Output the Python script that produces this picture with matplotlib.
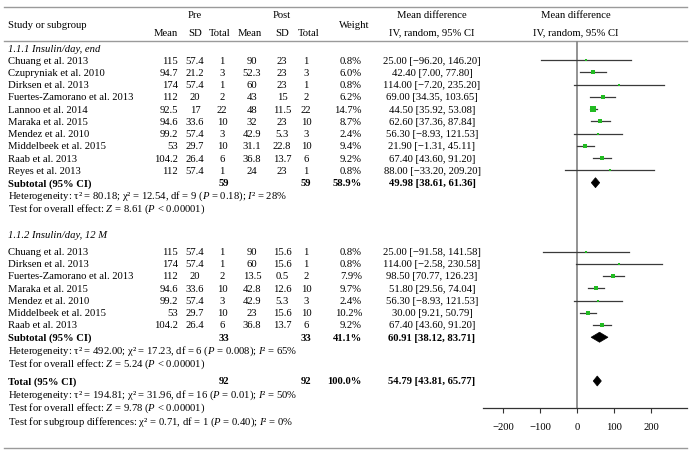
import matplotlib
matplotlib.use("Agg")
import matplotlib.pyplot as plt
from matplotlib.patches import Polygon
import numpy as np

plt.rcParams['font.family'] = ['Liberation Serif', 'DejaVu Serif']
plt.rcParams['mathtext.fontset'] = 'custom'
plt.rcParams['mathtext.it'] = 'Liberation Serif:italic'
plt.rcParams['mathtext.rm'] = 'Liberation Serif'

FS = 7.7

# ---------------- data ----------------
g1_title = "1.1.1 Insulin/day, end"
g1_studies = ["Chuang et al. 2013", "Czupryniak et al. 2010", "Dirksen et al. 2013",
              "Fuertes-Zamorano et al. 2013", "Lannoo et al. 2014", "Maraka et al. 2015",
              "Mendez et al. 2010", "Middelbeek et al. 2015", "Raab et al. 2013", "Reyes et al. 2013"]
g1_pre_mean = ["115", "94.7", "174", "112", "92.5", "94.6", "99.2", "53", "104.2", "112"]
g1_pre_sd = ["57.4", "21.2", "57.4", "20", "17", "33.6", "57.4", "29.7", "26.4", "57.4"]
g1_pre_n = ["1", "3", "1", "2", "22", "10", "3", "10", "6", "1"]
g1_post_mean = ["90", "52.3", "60", "43", "48", "32", "42.9", "31.1", "36.8", "24"]
g1_post_sd = ["23", "23", "23", "15", "11.5", "23", "5.3", "22.8", "13.7", "23"]
g1_post_n = ["1", "3", "1", "2", "22", "10", "3", "10", "6", "1"]
g1_weight = [0.8, 6.0, 0.8, 6.2, 14.7, 8.7, 2.4, 9.4, 9.2, 0.8]
g1_md = [25.00, 42.40, 114.00, 69.00, 44.50, 62.60, 56.30, 21.90, 67.40, 88.00]
g1_lo = [-96.20, 7.00, -7.20, 34.35, 35.92, 37.36, -8.93, -1.31, 43.60, -33.20]
g1_hi = [146.20, 77.80, 235.20, 103.65, 53.08, 87.84, 121.53, 45.11, 91.20, 209.20]
g1_sub = dict(n_pre="59", n_post="59", weight=58.9, md=49.98, lo=38.61, hi=61.36)
g1_het = "Heterogeneity: \u03c4\u00b2 = 80.18; \u03c7\u00b2 = 12.54, df = 9 ($P$ = 0.18); $I$\u00b2 = 28%"
g1_test = "Test for overall effect: $Z$ = 8.61 ($P$ < 0.00001)"

g2_title = "1.1.2 Insulin/day, 12 M"
g2_studies = ["Chuang et al. 2013", "Dirksen et al. 2013", "Fuertes-Zamorano et al. 2013",
              "Maraka et al. 2015", "Mendez et al. 2010", "Middelbeek et al. 2015", "Raab et al. 2013"]
g2_pre_mean = ["115", "174", "112", "94.6", "99.2", "53", "104.2"]
g2_pre_sd = ["57.4", "57.4", "20", "33.6", "57.4", "29.7", "26.4"]
g2_pre_n = ["1", "1", "2", "10", "3", "10", "6"]
g2_post_mean = ["90", "60", "13.5", "42.8", "42.9", "23", "36.8"]
g2_post_sd = ["15.6", "15.6", "0.5", "12.6", "5.3", "15.6", "13.7"]
g2_post_n = ["1", "1", "2", "10", "3", "10", "6"]
g2_weight = [0.8, 0.8, 7.9, 9.7, 2.4, 10.2, 9.2]
g2_md = [25.00, 114.00, 98.50, 51.80, 56.30, 30.00, 67.40]
g2_lo = [-91.58, -2.58, 70.77, 29.56, -8.93, 9.21, 43.60]
g2_hi = [141.58, 230.58, 126.23, 74.04, 121.53, 50.79, 91.20]
g2_sub = dict(n_pre="33", n_post="33", weight=41.1, md=60.91, lo=38.12, hi=83.71)
g2_het = "Heterogeneity: \u03c4\u00b2 = 492.00; \u03c7\u00b2 = 17.23, df = 6 ($P$ = 0.008); $I$\u00b2 = 65%"
g2_test = "Test for overall effect: $Z$ = 5.24 ($P$ < 0.00001)"

total = dict(n_pre="92", n_post="92", weight=100.0, md=54.79, lo=43.81, hi=65.77)
tot_het = "Heterogeneity: \u03c4\u00b2 = 194.81; \u03c7\u00b2 = 31.96, df = 16 ($P$ = 0.01); $I$\u00b2 = 50%"
tot_test = "Test for overall effect: $Z$ = 9.78 ($P$ < 0.00001)"
sub_test = "Test for subgroup differences: \u03c7\u00b2 = 0.71, df = 1 ($P$ = 0.40); $I$\u00b2 = 0%"

x_ticks = [-200, -100, 0, 100, 200]

# ---------------- layout (pixels) ----------------
W, H = 695, 456
fig = plt.figure(figsize=(W / 100, H / 100), dpi=100)
ax = fig.add_axes([0, 0, 1, 1])
ax.set_xlim(0, W)
ax.set_ylim(H, 0)
ax.axis('off')

PITCH = 12.25
X_STUDY = 8
X_PMEAN = 178
X_PSD = 195
X_PN = 222
X_QMEAN = 252
X_QSD = 282
X_QN = 306
X_W = 362
X_MD = 432
X_PLOT = 576

RULE_C = '#9a9a9a'

def t(x, y, s, ha='left', bold=False, italic=False, size=FS):
    ax.text(x, y, s, ha=ha, va='center', fontsize=size,
            fontweight='bold' if bold else 'normal',
            fontstyle='italic' if italic else 'normal')

def fmt_ci(md, lo, hi):
    f = lambda v: ("%.2f" % v).replace('-', '\u2212')
    return "%s [%s, %s]" % (f(md), f(lo), f(hi))

# rules
ax.plot([4, 687], [8, 8], color=RULE_C, lw=1.0)
ax.plot([4, 687], [41.5, 41.5], color=RULE_C, lw=1.0)
ax.plot([4, 687], [449, 449], color=RULE_C, lw=1.0)

# header
t(X_PSD, 15, "Pre", ha='center')
t(X_QSD, 15, "Post", ha='center')
t(X_STUDY, 25, "Study or subgroup")
t(X_W - 8, 25, "Weight", ha='center')
t(X_MD, 15, "Mean difference", ha='center')
t(X_MD, 33, "IV, random, 95% CI", ha='center')
t(X_PLOT, 15, "Mean difference", ha='center')
t(X_PLOT, 33, "IV, random, 95% CI", ha='center')
t(X_PMEAN, 33, "Mean", ha='right')
t(X_PSD, 33, "SD", ha='center')
t(X_PN - 2, 33, "Total", ha='center')
t(X_QMEAN - 2, 33, "Mean", ha='center')
t(X_QSD, 33, "SD", ha='center')
t(X_QN + 3, 33, "Total", ha='center')

# forest axes
PLOT_L, PLOT_R = 483, 687
AXIS_Y = 409
fax = fig.add_axes([PLOT_L / W, 0, (PLOT_R - PLOT_L) / W, 1])
fax.patch.set_alpha(0)
px_per_unit = 0.37
zero_px = 577
fax.set_xlim((PLOT_L - zero_px) / px_per_unit, (PLOT_R - zero_px) / px_per_unit)
fax.set_ylim(H, 0)
for s in ['left', 'right', 'top']:
    fax.spines[s].set_visible(False)
fax.spines['bottom'].set_position(('data', AXIS_Y))
fax.spines['bottom'].set_color('#333333')
fax.spines['bottom'].set_linewidth(0.9)
fax.set_yticks([])
fax.set_xticks(x_ticks)
fax.set_xticklabels([str(v).replace('-', '\u2212') for v in x_ticks])
fax.tick_params(axis='x', direction='out', length=3.8, width=0.8, color='#333333',
                labelsize=FS, pad=6)
fax.vlines(0, 41.5, AXIS_Y, color='#8a8a8a', lw=1.3, zorder=1)

def study_mark(y, md, lo, hi, w):
    fax.plot([lo, hi], [y, y], color='#3a3a3a', lw=0.9, zorder=2)
    side = 1.4 + 0.95 * np.sqrt(w)
    fax.plot([md], [y], marker='s', ms=side * 0.72, color='#22bb22', mec='#22bb22',
             mew=0, zorder=3)

def diamond(y, md, lo, hi, h=5.0):
    fax.add_patch(Polygon([[lo, y], [md, y - h], [hi, y], [md, y + h]], closed=True,
                          facecolor='black', edgecolor='black', lw=0.5, zorder=3))

def group(y0, title, studies, pm, psd, pn, qm, qsd, qn, wts, md, lo, hi, sub, het, test,
          first_gap):
    t(X_STUDY, y0, title, italic=True)
    y = y0 + first_gap
    for i in range(len(studies)):
        t(X_STUDY, y, studies[i])
        t(X_PMEAN, y, pm[i], ha='right')
        t(X_PSD, y, psd[i], ha='center')
        t(X_PN, y, pn[i], ha='center')
        t(X_QMEAN, y, qm[i], ha='center')
        t(X_QSD, y, qsd[i], ha='center')
        t(X_QN, y, qn[i], ha='center')
        t(X_W, y, "%.1f%%" % wts[i], ha='right')
        t(X_MD, y, fmt_ci(md[i], lo[i], hi[i]), ha='center')
        study_mark(y, md[i], lo[i], hi[i], wts[i])
        y += PITCH
    t(X_STUDY, y, "Subtotal (95% CI)", bold=True)
    t(X_PN + 2, y, sub['n_pre'], ha='center', bold=True)
    t(X_QN, y, sub['n_post'], ha='center', bold=True)
    t(X_W, y, "%.1f%%" % sub['weight'], ha='right', bold=True)
    t(X_MD, y, fmt_ci(sub['md'], sub['lo'], sub['hi']), ha='center', bold=True)
    diamond(y, sub['md'], sub['lo'], sub['hi'])
    y += PITCH + 0.8
    t(X_STUDY, y, het)
    y += PITCH + 0.4
    t(X_STUDY, y, test)
    return y

group(49, g1_title, g1_studies, g1_pre_mean, g1_pre_sd, g1_pre_n, g1_post_mean,
      g1_post_sd, g1_post_n, g1_weight, g1_md, g1_lo, g1_hi, g1_sub, g1_het, g1_test, 12.2)
group(236, g2_title, g2_studies, g2_pre_mean, g2_pre_sd, g2_pre_n, g2_post_mean,
      g2_post_sd, g2_post_n, g2_weight, g2_md, g2_lo, g2_hi, g2_sub, g2_het, g2_test, 16.5)

yt = 382
t(X_STUDY, yt, "Total (95% CI)", bold=True)
t(X_PN + 2, yt, total['n_pre'], ha='center', bold=True)
t(X_QN, yt, total['n_post'], ha='center', bold=True)
t(X_W, yt, "%.1f%%" % total['weight'], ha='right', bold=True)
t(X_MD, yt, fmt_ci(total['md'], total['lo'], total['hi']), ha='center', bold=True)
diamond(yt, total['md'], total['lo'], total['hi'])
t(X_STUDY, 395, tot_het)
t(X_STUDY, 408, tot_test)
t(X_STUDY, 422, sub_test)

fig.savefig("out.png", dpi=100)
